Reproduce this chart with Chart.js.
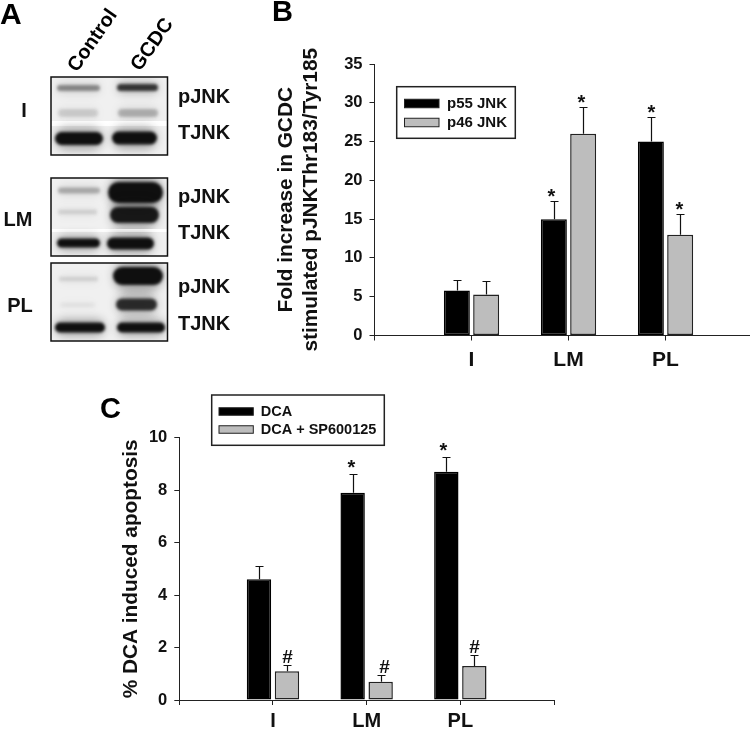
<!DOCTYPE html>
<html>
<head>
<meta charset="utf-8">
<script src="https://cdn.jsdelivr.net/npm/chart.js@4/dist/chart.umd.min.js"></script>
<style>
  html, body { margin: 0; padding: 0; background: #fff; overflow: hidden; }
  canvas { position: absolute; filter: blur(0.3px); }
  #panelA { left: 0; top: 0; }
  #panelB { left: 260px; top: 0; }
  #panelC { left: 90px; top: 380px; }
</style>
</head>
<body>
<canvas id="panelA" width="260" height="350"></canvas>
<canvas id="panelB" width="490" height="380"></canvas>
<canvas id="panelC" width="480" height="351"></canvas>
<script>
// categories
var categories = ['I', 'LM', 'PL'];

// panel B: fold increase
var p55Values = [5.8, 15, 25];
var p55ErrorTops = [7.1, 17.4, 28.2];
var p55Marks = ['', '*', '*'];
var p46Values = [5.3, 26, 13];
var p46ErrorTops = [7.0, 29.4, 15.7];
var p46Marks = ['', '*', '*'];

// panel C: % apoptosis
var dcaValues = [4.6, 7.9, 8.7];
var dcaErrorTops = [5.1, 8.6, 9.27];
var dcaMarks = ['', '*', '*'];
var spValues = [1.1, 0.7, 1.3];
var spErrorTops = [1.35, 0.97, 1.7];
var spMarks = ['#', '#', '#'];

// panel A: blot lanes and band darkness (0-1), one pair per row [Control, GCDC]
var blotLanes = ['Control', 'GCDC'];
var blotBandNames = ['pJNK', 'TJNK'];
var upperBand = [[0.42, 0.8], [0.28, 1], [0.12, 1]];
var lowerBand = [[0.14, 0.26], [0.13, 0.95], [0.05, 0.85]];
var totalBand = [[1, 1], [1, 1], [1, 1]];

var FONT = '"Liberation Sans", Arial, sans-serif';
var INK = '#111';
var GRAY = '#bdbdbd';

Chart.defaults.font.family = FONT;
Chart.defaults.font.weight = 'bold';
Chart.defaults.color = INK;
Chart.defaults.animation = false;

function points(values) {
  return values.map(function (v, i) { return { x: i + 1, y: v }; });
}

function categoryTick(value) {
  return categories[value - 1] || '';
}

var whiskerPlugin = {
  id: 'whiskers',
  afterDatasetsDraw: function (chart, args, opts) {
    var ctx = chart.ctx, y = chart.scales.y;
    chart.data.datasets.forEach(function (ds, d) {
      chart.getDatasetMeta(d).data.forEach(function (bar, i) {
        var top = Math.round(y.getPixelForValue(ds.errorTops[i])) + 0.5;
        var x = Math.round(bar.x) + 0.5;
        ctx.save();
        ctx.strokeStyle = INK;
        ctx.lineWidth = 1.2;
        ctx.beginPath();
        ctx.moveTo(x, bar.y);
        ctx.lineTo(x, top);
        ctx.moveTo(x - opts.cap, top);
        ctx.lineTo(x + opts.cap, top);
        ctx.stroke();
        ctx.fillStyle = INK;
        ctx.textAlign = 'center';
        ctx.textBaseline = 'alphabetic';
        var mark = ds.marks[i];
        var markX = x + opts.shift[d][i];
        if (mark === '*') {
          ctx.font = 'bold 20px ' + FONT;
          ctx.fillText(mark, markX, top + opts.starDrop);
        } else if (mark === '#') {
          ctx.font = 'bold 19px ' + FONT;
          ctx.fillText(mark, markX, top - opts.hashGap);
        }
        ctx.restore();
      });
    });
  }
};

// boxed legend and the panel letter
var framePlugin = {
  id: 'frame',
  afterDraw: function (chart, args, opts) {
    var ctx = chart.ctx;
    ctx.save();
    ctx.font = 'bold 29px ' + FONT;
    ctx.fillStyle = '#000';
    ctx.textBaseline = 'alphabetic';
    ctx.fillText(opts.letter, opts.letterX, opts.letterY);
    ctx.strokeStyle = '#222';
    ctx.lineWidth = 1.5;
    ctx.fillStyle = '#fff';
    ctx.fillRect(opts.box[0], opts.box[1], opts.box[2], opts.box[3]);
    ctx.strokeRect(opts.box[0], opts.box[1], opts.box[2], opts.box[3]);
    chart.data.datasets.forEach(function (ds, d) {
      var row = opts.rows[d];
      ctx.fillStyle = ds.backgroundColor;
      ctx.fillRect(opts.swatchX, row - opts.swatchH / 2, opts.swatchW, opts.swatchH);
      ctx.lineWidth = 1;
      ctx.strokeStyle = '#222';
      ctx.strokeRect(opts.swatchX, row - opts.swatchH / 2, opts.swatchW, opts.swatchH);
      ctx.fillStyle = INK;
      ctx.font = 'bold ' + opts.textSize + 'px ' + FONT;
      ctx.textBaseline = 'middle';
      ctx.fillText(ds.label, opts.textX, row + 0.5);
    });
    ctx.restore();
  }
};

function barChart(id, cfg) {
  return new Chart(document.getElementById(id), {
    type: 'bar',
    data: {
      datasets: cfg.series.map(function (s) {
        return {
          label: s.label,
          data: points(s.values),
          errorTops: s.errorTops,
          marks: s.marks,
          backgroundColor: s.color,
          borderColor: s.color === GRAY ? '#222' : '#000',
          borderWidth: 1.5,
          borderSkipped: false,
          barPercentage: cfg.barPercentage,
          categoryPercentage: cfg.categoryPercentage
        };
      })
    },
    options: {
      responsive: false,
      maintainAspectRatio: false,
      layout: { padding: { top: cfg.top, right: cfg.right, bottom: 0, left: 0 } },
      plugins: {
        legend: { display: false },
        tooltip: { enabled: false },
        whiskers: cfg.whiskers,
        frame: cfg.frame
      },
      scales: {
        x: {
          type: 'linear',
          offset: false,
          min: 0,
          max: cfg.xMax,
          afterFit: function (s) { s.height = cfg.axisBelow; },
          border: { color: '#222', width: 1 },
          grid: { offset: false, drawOnChartArea: false, color: '#222', tickLength: 5 },
          ticks: {
            stepSize: 1,
            includeBounds: false,
            autoSkip: false,
            maxRotation: 0,
            font: { size: cfg.catSize, weight: 'bold' },
            padding: cfg.catPad,
            callback: categoryTick
          }
        },
        y: {
          min: 0,
          max: cfg.yMax,
          afterFit: function (s) { s.width = cfg.axisLeft; },
          border: { color: '#222', width: 1 },
          grid: { drawOnChartArea: false, color: '#222', tickLength: 5 },
          ticks: { stepSize: cfg.yStep, font: { size: cfg.tickSize, weight: 'bold' }, padding: 7 },
          title: {
            display: true,
            text: cfg.yTitle,
            font: { size: cfg.titleSize, weight: 'bold', lineHeight: cfg.titleLine },
            padding: { top: cfg.titlePad, bottom: 0 }
          }
        }
      }
    },
    plugins: [whiskerPlugin, framePlugin]
  });
}

barChart('panelB', {
  series: [
    { label: 'p55 JNK', values: p55Values, errorTops: p55ErrorTops, marks: p55Marks, color: '#000' },
    { label: 'p46 JNK', values: p46Values, errorTops: p46ErrorTops, marks: p46Marks, color: GRAY }
  ],
  top: 64, right: 0, axisBelow: 44.5, axisLeft: 114.5,
  xMax: 3.871, yMax: 35, yStep: 5, tickSize: 16.5,
  catSize: 21, catPad: 7,
  barPercentage: 0.887, categoryPercentage: 0.604,
  yTitle: ['Fold increase in GCDC', 'stimulated pJNKThr183/Tyr185'],
  titleSize: 20.8, titleLine: 1.2, titlePad: 14,
  whiskers: { cap: 4, starDrop: 1, hashGap: 2, shift: [[0, -3, 0], [0, -2, -1]] },
  frame: {
    letter: 'B', letterX: 12, letterY: 21,
    box: [136.7, 86.7, 118.6, 51.6],
    rows: [103.5, 122.5], swatchX: 144.5, swatchW: 34.5, swatchH: 8.5,
    textX: 187, textSize: 15
  }
});

barChart('panelC', {
  series: [
    { label: 'DCA', values: dcaValues, errorTops: dcaErrorTops, marks: dcaMarks, color: '#000' },
    { label: 'DCA + SP600125', values: spValues, errorTops: spErrorTops, marks: spMarks, color: GRAY }
  ],
  top: 57.7, right: 16, axisBelow: 31, axisLeft: 89.3,
  xMax: 4, yMax: 10, yStep: 2, tickSize: 16.5,
  catSize: 20, catPad: 4,
  barPercentage: 0.87, categoryPercentage: 0.598,
  yTitle: '% DCA induced apoptosis',
  titleSize: 20.8, titleLine: 1.2, titlePad: 29,
  whiskers: { cap: 4, starDrop: -1, hashGap: 3, shift: [[0, -2, -3], [0, 3, 0]] },
  frame: {
    letter: 'C', letterX: 10, letterY: 38,
    box: [121.7, 15, 172.6, 50.3],
    rows: [31.5, 49.5], swatchX: 129, swatchW: 34.3, swatchH: 7.5,
    textX: 170.7, textSize: 14.5
  }
});

// panel A: three blot frames, drawn as blurred bands
var blotFrames = [
  { row: 'I', top: 77, height: 78, labelX: 24, labelY: 111, pY: 97, tY: 133, strip: [121, 5],
    upperLanes: [[57, 100], [117, 158]], lowerLanes: [[58, 98], [118, 158]], totalLanes: [[55, 103], [112, 157]],
    upper: [[88, 6], [87.5, 7]], lower: [[113, 8], [113, 8]], total: [[138.5, 13], [138, 13]] },
  { row: 'LM', top: 178, height: 78, labelX: 18, labelY: 220, pY: 197, tY: 233, strip: [229, 3],
    upperLanes: [[58, 100], [108, 163]], lowerLanes: [[58, 97], [110, 159]], totalLanes: [[57, 100], [107, 154]],
    upper: [[190.5, 6], [192.5, 21]], lower: [[212, 5], [215, 16]], total: [[243, 9], [243.5, 12]] },
  { row: 'PL', top: 263, height: 78, labelX: 20, labelY: 306, pY: 287, tY: 324, strip: null,
    upperLanes: [[59, 98], [113, 163]], lowerLanes: [[60, 95], [116, 157]], totalLanes: [[55, 105], [117, 165]],
    upper: [[279, 5], [276, 18]], lower: [[305, 5], [304.5, 12]], total: [[327.5, 10], [327.5, 10]] }
];

// one band: a wide faint haze under a blurred core
function band(ctx, lane, row, strength, thick) {
  ctx.save();
  ctx.filter = 'blur(4px)';
  ctx.fillStyle = 'rgba(15,15,15,' + strength * 0.3 + ')';
  ctx.beginPath();
  ctx.roundRect(lane[0], row - thick * 0.9, lane[1] - lane[0], thick * 1.8, thick * 0.9);
  ctx.fill();
  ctx.filter = 'blur(1.5px)';
  ctx.fillStyle = 'rgba(15,15,15,' + strength + ')';
  ctx.beginPath();
  ctx.roundRect(lane[0], row - thick / 2, lane[1] - lane[0], thick, thick / 2);
  ctx.fill();
  ctx.restore();
}

var blotPlugin = {
  id: 'blots',
  afterDraw: function (chart) {
    var ctx = chart.ctx;
    ctx.save();
    ctx.font = 'bold 30px ' + FONT;
    ctx.fillStyle = '#000';
    ctx.fillText('A', 0, 24);

    ctx.font = 'bold 20px ' + FONT;
    [[blotLanes[0], 77, 73], [blotLanes[1], 140, 72]].forEach(function (t) {
      ctx.save();
      ctx.translate(t[1], t[2]);
      ctx.rotate(-55 * Math.PI / 180);
      ctx.fillText(t[0], 0, 0);
      ctx.restore();
    });

    blotFrames.forEach(function (f, r) {
      ctx.save();
      ctx.beginPath();
      ctx.rect(51, f.top, 116.5, f.height);
      ctx.clip();
      ctx.fillStyle = '#f0f0f0';
      ctx.fillRect(51, f.top, 116.5, f.height);
      [0, 1].forEach(function (l) {
        band(ctx, f.upperLanes[l], f.upper[l][0], upperBand[r][l], f.upper[l][1]);
        band(ctx, f.lowerLanes[l], f.lower[l][0], lowerBand[r][l], f.lower[l][1]);
      });
      if (f.strip) {
        ctx.fillStyle = '#fff';
        ctx.fillRect(51, f.strip[0], 116.5, f.strip[1]);
      }
      [0, 1].forEach(function (l) {
        band(ctx, f.totalLanes[l], f.total[l][0], totalBand[r][l], f.total[l][1]);
      });
      ctx.restore();
      ctx.strokeStyle = '#111';
      ctx.lineWidth = 1.5;
      ctx.strokeRect(51, f.top, 116.5, f.height);

      ctx.fillStyle = INK;
      ctx.font = 'bold 20px ' + FONT;
      ctx.textBaseline = 'middle';
      ctx.textAlign = 'center';
      ctx.fillText(f.row, f.labelX, f.labelY);
      ctx.textAlign = 'left';
      ctx.fillText(blotBandNames[0], 178, f.pY);
      ctx.fillText(blotBandNames[1], 178, f.tY);
      ctx.textBaseline = 'alphabetic';
    });
    ctx.restore();
  }
};

new Chart(document.getElementById('panelA'), {
  type: 'scatter',
  data: { datasets: [] },
  options: {
    responsive: false,
    maintainAspectRatio: false,
    plugins: { legend: { display: false }, tooltip: { enabled: false } },
    scales: { x: { display: false }, y: { display: false } }
  },
  plugins: [blotPlugin]
});
</script>
</body>
</html>
